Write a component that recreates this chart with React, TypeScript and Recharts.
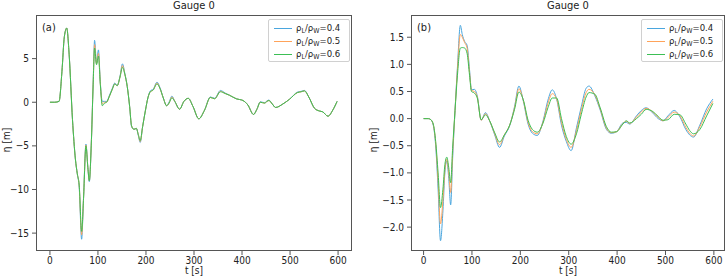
import { LineChart, Line, XAxis, YAxis } from "recharts";

const FONT = "'DejaVu Sans Condensed', 'DejaVu Sans', sans-serif";

const seriesLabels = ["0.4", "0.5", "0.6"];
const seriesColors = ["#4aa6de", "#ffa35a", "#3cbf55"];

// panel (a)
const timeA = [
  0, 10, 19, 25, 30, 35, 40, 47, 53, 57,
  61, 66, 70, 75, 79, 82, 86, 90, 93, 97,
  101, 105, 109, 114, 118, 124, 130, 135, 140, 146,
  151, 156, 161, 166, 170, 175, 180, 184, 188, 193,
  199, 204, 209, 215, 223, 229, 236, 243, 248, 254,
  260, 270, 279, 288, 298, 310, 322, 334, 343, 355,
  365, 374, 388, 402, 412, 424, 431, 438, 447, 452,
  456, 463, 470, 485, 499, 515, 523, 530, 539, 551,
  561, 568, 579, 589, 598,
];
const etaA04 = [
  0, 0, 0.1, 3.5, 7.5, 8.5, 5.5, -2, -6.5, -8.2,
  -9.8, -15.7, -11, -4.8, -7.5, -9.1, -5, 2.2, 7.1, 4.5,
  6.0, 2.2, 0.1, 0.1, 0.1, 0.8, 1.6, 2.2, 1.9, 3.0,
  4.4, 3.3, 1.8, -0.5, -2.8, -3.1, -3.0, -3.8, -4.6, -2.8,
  -0.9, 0.5, 1.3, 1.5, 2.3, 1.7, 0.5, -0.4, 0.0, 0.7,
  0.1, -0.8, 0.1, 0.45, -0.5, -1.9, -0.9, 0.6, 0.45, 1.35,
  1.05, 0.8, 0.4, 0.2, -0.3, -1.4, -0.8, 0.05, -0.05, 0.15,
  0.25, -0.2, -0.6, -0.2, 0.35, 1.15, 1.25, 1.35, 0.6, -0.7,
  -1.0, -1.1, -1.6, -0.9, 0.1,
];
const etaA05 = [
  0, 0, 0.1, 3.5, 7.5, 8.5, 5.5, -2, -6.5, -8.2,
  -9.6, -15.2, -11, -4.9, -7.5, -9.0, -5, 2.1, 6.6, 4.4,
  5.6, 2.1, -0.2, 0.0, 0.0, 0.7, 1.5, 2.1, 1.9, 2.9,
  4.2, 3.2, 1.8, -0.5, -2.7, -3.1, -3.0, -3.7, -4.5, -2.8,
  -0.9, 0.5, 1.2, 1.4, 2.2, 1.6, 0.5, -0.4, -0.1, 0.6,
  0.1, -0.8, 0.1, 0.45, -0.5, -1.9, -0.9, 0.55, 0.4, 1.25,
  1.0, 0.8, 0.4, 0.2, -0.3, -1.4, -0.8, 0, -0.1, 0.1,
  0.2, -0.2, -0.6, -0.2, 0.35, 1.1, 1.2, 1.3, 0.6, -0.7,
  -1.0, -1.1, -1.6, -0.9, 0.1,
];
const etaA06 = [
  0, 0, 0.1, 3.5, 7.5, 8.5, 5.5, -2, -6.5, -8.2,
  -9.5, -14.8, -11, -5.0, -7.5, -9.0, -5, 2, 6.2, 4.3,
  5.3, 2.0, -0.4, -0.1, 0.0, 0.7, 1.5, 2.1, 1.9, 2.9,
  4.0, 3.2, 1.8, -0.5, -2.7, -3.1, -3.0, -3.7, -4.4, -2.8,
  -0.9, 0.5, 1.2, 1.4, 2.1, 1.6, 0.5, -0.4, -0.1, 0.5,
  0.1, -0.8, 0.1, 0.45, -0.5, -1.9, -0.9, 0.55, 0.4, 1.2,
  1.0, 0.8, 0.4, 0.2, -0.3, -1.4, -0.8, 0, -0.1, 0.1,
  0.2, -0.2, -0.6, -0.2, 0.35, 1.1, 1.2, 1.3, 0.6, -0.7,
  -1.0, -1.1, -1.6, -0.9, 0.1,
];

// panel (b)
const timeB = [
  0, 10, 15, 20, 25, 30, 35, 40, 44, 48,
  52, 56, 60, 65, 70, 76, 80, 85, 90, 95,
  99, 105, 111, 119, 128, 137, 147, 157, 167, 178,
  188, 197, 206, 216, 225, 235, 247, 257, 266, 275,
  285, 295, 305, 316, 326, 336, 342, 354, 365, 378,
  388, 399, 412, 419, 426, 440, 450, 460, 474, 485,
  495, 505, 518, 530, 542, 550, 558, 571, 585, 598,
];
const etaB04 = [
  0, 0, -0.02, -0.12, -0.5, -1.3, -2.25, -1.7, -1.0, -0.78,
  -1.1, -1.59, -0.75, 0.15, 0.95, 1.72, 1.55, 1.42, 1.35, 0.9,
  0.53, 0.54, 0.42, -0.03, 0.11, -0.05, -0.3, -0.53, -0.32, -0.13,
  0.22, 0.6, 0.33, -0.1, -0.27, -0.31, -0.04, 0.34, 0.53, 0.36,
  -0.12, -0.42, -0.59, -0.17, 0.22, 0.56, 0.6, 0.42, 0.16, -0.2,
  -0.27, -0.24, -0.08, -0.07, -0.1, 0.05, 0.15, 0.2, 0.1, 0.0,
  -0.04, 0.05, 0.15, 0.03, -0.2, -0.3, -0.34, -0.12, 0.18, 0.36,
];
const etaB05 = [
  0, 0, -0.02, -0.11, -0.45, -1.15, -1.94, -1.5, -0.95, -0.75,
  -1.0, -1.36, -0.65, 0.15, 0.9, 1.55, 1.5, 1.4, 1.3, 0.85,
  0.52, 0.5, 0.4, -0.03, 0.09, -0.05, -0.28, -0.48, -0.3, -0.12,
  0.2, 0.55, 0.34, -0.07, -0.24, -0.28, -0.06, 0.28, 0.46, 0.36,
  -0.07, -0.38, -0.53, -0.22, 0.16, 0.48, 0.54, 0.44, 0.18, -0.18,
  -0.26, -0.24, -0.09, -0.05, -0.09, 0.03, 0.12, 0.19, 0.12, 0.02,
  -0.04, 0.02, 0.12, 0.05, -0.16, -0.27, -0.32, -0.15, 0.12, 0.32,
];
const etaB06 = [
  0, 0, -0.02, -0.1, -0.42, -1.0, -1.64, -1.3, -0.85, -0.71,
  -0.9, -1.18, -0.55, 0.15, 0.8, 1.3, 1.31, 1.3, 1.2, 0.8,
  0.5, 0.47, 0.38, -0.02, 0.07, -0.05, -0.26, -0.43, -0.3, -0.12,
  0.17, 0.49, 0.35, -0.03, -0.2, -0.25, -0.08, 0.2, 0.38, 0.38,
  0.0, -0.33, -0.47, -0.28, 0.08, 0.4, 0.48, 0.45, 0.2, -0.15,
  -0.25, -0.24, -0.1, -0.04, -0.08, 0.0, 0.08, 0.17, 0.13, 0.04,
  -0.03, -0.02, 0.08, 0.07, -0.1, -0.22, -0.28, -0.2, 0.05, 0.28,
];

const xTicks = [0, 100, 200, 300, 400, 500, 600];
const yTicksA = [-15, -10, -5, 0, 5];
const yTicksB = [-2, -1.5, -1, -0.5, 0, 0.5, 1, 1.5];

const rowsA = timeA.map((t, i) => ({ t, s0: etaA04[i], s1: etaA05[i], s2: etaA06[i] }));
const rowsB = timeB.map((t, i) => ({ t, s0: etaB04[i], s1: etaB05[i], s2: etaB06[i] }));

const minus = (s: string) => s.replace("-", "\u2212");
const FRAME = "#555";
const tickStyle = { fontSize: 10, fill: "#222", fontFamily: FONT };

function Panel({ left, rows, plotLeft, plotRight, xDomain, yDomain, yTicks, fmtY, tag, labelX }: any) {
  const W = 363;
  const H = 278;
  const top = 15;
  const bottom = 251;
  const centerPad = plotLeft - (W - plotRight);
  return (
    <div style={{ position: "absolute", left, top: 0, width: W, height: H }}>
      <LineChart
        width={W}
        height={H}
        data={rows}
        margin={{ top, right: W - plotRight, bottom: 0, left: 0 }}
      >
        <XAxis
          dataKey="t"
          type="number"
          domain={xDomain}
          allowDataOverflow
          ticks={xTicks}
          height={H - bottom}
          tickSize={4}
          tickMargin={2}
          axisLine={false}
          stroke={FRAME}
          tick={tickStyle}
          tickFormatter={(v: number) => String(v)}
        />
        <YAxis
          type="number"
          domain={yDomain}
          allowDataOverflow
          ticks={yTicks}
          width={plotLeft}
          tickSize={4}
          tickMargin={3}
          axisLine={false}
          stroke={FRAME}
          tick={tickStyle}
          tickFormatter={fmtY}
        />
        {seriesColors.map((c, i) => (
          <Line
            key={i}
            type="monotone"
            dataKey={"s" + i}
            stroke={c}
            strokeWidth={1}
            dot={false}
            isAnimationActive={false}
          />
        ))}
      </LineChart>
      <div style={{ position: "absolute", left: plotLeft, top, width: plotRight - plotLeft, height: bottom - top, border: `1px solid ${FRAME}`, boxSizing: "border-box", pointerEvents: "none" }} />
      <div style={{ position: "absolute", left: 0, width: W, top: 0, textAlign: "center", fontFamily: FONT, fontSize: 11, lineHeight: "12px", paddingLeft: centerPad, boxSizing: "border-box", color: "#222" }}>
        Gauge 0
      </div>
      <div style={{ position: "absolute", left: plotLeft + 6, top: 21, fontFamily: FONT, fontSize: 11, color: "#222" }}>{tag}</div>
      <div style={{ position: "absolute", left: 0, width: W, top: 265, textAlign: "center", paddingLeft: centerPad, boxSizing: "border-box", fontFamily: FONT, fontSize: 10, color: "#222" }}>
        t [s]
      </div>
      <div style={{ position: "absolute", left: labelX, top: 140, transform: "translate(-50%, -50%) rotate(-90deg)", fontFamily: FONT, fontSize: 10, color: "#222", whiteSpace: "nowrap" }}>
        η [m]
      </div>
      <div style={{ position: "absolute", left: plotRight - 84, top: 19, width: 82, height: 43, border: "1px solid #d0d0d0", borderRadius: 2, background: "rgba(255,255,255,0.85)", boxSizing: "border-box", fontFamily: FONT, fontSize: 9.5, color: "#222" }}>
        {seriesLabels.map((lab, i) => (
          <div key={lab} style={{ position: "absolute", left: 5, top: 2 + i * 13, height: 12, width: 76 }}>
            <div style={{ position: "absolute", left: 0, top: 6, width: 18, height: 1, background: seriesColors[i] }} />
            <div style={{ position: "absolute", left: 22, top: 0, lineHeight: "12px", whiteSpace: "nowrap" }}>
              ρ<sub style={{ fontSize: 7, verticalAlign: "-2px" }}>L</sub>/ρ<sub style={{ fontSize: 7, verticalAlign: "-2px" }}>W</sub>={lab}
            </div>
          </div>
        ))}
      </div>
    </div>
  );
}

export default function App() {
  return (
    <div style={{ position: "absolute", left: 0, top: 0, width: 726, height: 278, background: "#fff" }}>
      <Panel
        left={0}
        rows={rowsA}
        plotLeft={36}
        plotRight={352}
        xDomain={[-29, 629]}
        yDomain={[-17.05, 10.0]}
        yTicks={yTicksA}
        fmtY={(v: number) => minus(String(v))}
        tag="(a)"
        labelX={6}
      />
      <Panel
        left={363}
        rows={rowsB}
        plotLeft={48}
        plotRight={362}
        xDomain={[-26, 623]}
        yDomain={[-2.44, 1.91]}
        yTicks={yTicksB}
        fmtY={(v: number) => minus(v.toFixed(1))}
        tag="(b)"
        labelX={10}
      />
    </div>
  );
}
